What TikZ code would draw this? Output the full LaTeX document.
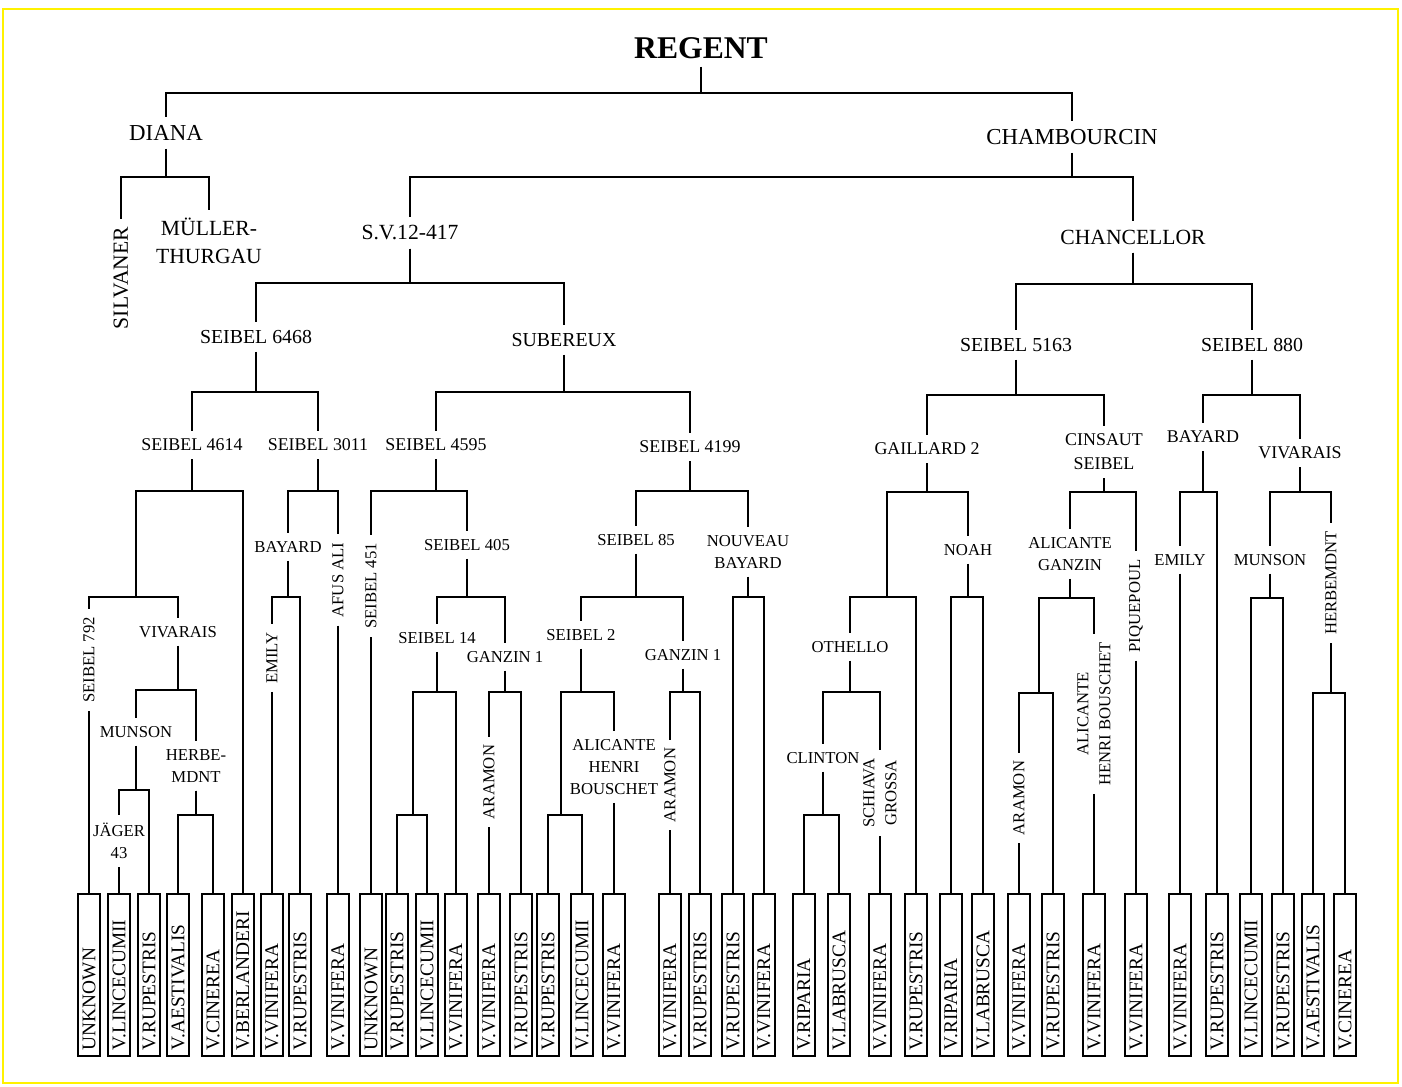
\documentclass[tikz,border=0pt]{standalone}
\usepackage{fontspec}
\setmainfont{Liberation Serif}
\tikzset{
  cv/.style={inner sep=4.5pt, align=center},
  lvA/.style={cv, font=\fontsize{13}{16}\selectfont},
  lvB/.style={cv, font=\fontsize{12.3}{16}\selectfont},
  lvC/.style={cv, font=\fontsize{11.3}{14}\selectfont},
  lvD/.style={cv, font=\fontsize{10.2}{13.6}\selectfont},
  lvE/.style={cv, font=\fontsize{9.5}{12.5}\selectfont},
  up/.style={rotate=90},
  species/.style={draw, line width=1.1pt, rotate=90, inner xsep=0.12cm, inner ysep=0pt,
    minimum height=0.44cm, text width=3cm, align=left, font=\fontsize{11}{13}\selectfont},
  kin/.style={line width=0.9pt}
}
% padre -> barra a la altura #2 -> hijos
\newcommand{\fork}[3]{\foreach \c in {#3} \draw[kin] (#1) -- (#1 |- 0,#2) -| (\c);}
\begin{document}
\begin{tikzpicture}[x=0.02cm, y=-0.02cm]
  \useasboundingbox (0,0) rectangle (1402,1086);
  \fill[white] (0,0) rectangle (1402,1086);
  \draw[yellow, line width=0.05cm] (3,9) rectangle (1398,1083);

  \node[cv, font=\fontsize{18}{20}\selectfont\bfseries] (regent) at (701,48) {REGENT};
  \node[lvA] (diana) at (166,133) {DIANA};
  \node[lvA] (chamb) at (1072,137) {CHAMBOURCIN};
  \node[lvB, up] (silvaner) at (121,278) {SILVANER};
  \node[lvB] (muller) at (209,241) {MÜLLER-\\THURGAU};
  \node[lvB] (sv) at (410,233) {S.V.12-417};
  \node[lvB] (chanc) at (1133,237) {CHANCELLOR};
  \node[lvC] (s6468) at (256,337) {SEIBEL 6468};
  \node[lvC] (suber) at (564,340) {SUBEREUX};
  \node[lvC] (s5163) at (1016,345) {SEIBEL 5163};
  \node[lvC] (s880) at (1252,345) {SEIBEL 880};
  \node[lvD] (s4614) at (192,445) {SEIBEL 4614};
  \node[lvD] (s3011) at (318,445) {SEIBEL 3011};
  \node[lvD] (s4595) at (436,445) {SEIBEL 4595};
  \node[lvD] (s4199) at (690,447) {SEIBEL 4199};
  \node[lvD] (gaill) at (927,449) {GAILLARD 2};
  \node[lvD] (cinsaut) at (1104,452) {CINSAUT\\SEIBEL};
  \node[lvD] (bayR) at (1203,437) {BAYARD};
  \node[lvD] (vivR) at (1300,453) {VIVARAIS};

  \coordinate (jA) at (136,597);
  \node[lvE, up] (s792) at (89,660) {SEIBEL 792};
  \node[lvE] (vivL) at (178,632) {VIVARAIS};
  \node[lvE] (munL) at (136,732) {MUNSON};
  \node[lvE] (herbL) at (196,766) {HERBE-\\MDNT};
  \node[lvE] (jager) at (119,841) {JÄGER\\43};
  \node[lvE] (bayL) at (288,547) {BAYARD};
  \node[lvE, up] (emilyL) at (272,658) {EMILY};
  \node[lvE, up] (afus) at (338,580) {AFUS ALI};
  \node[lvE, up] (s451) at (371,586) {SEIBEL 451};
  \node[lvE] (s405) at (467,545) {SEIBEL 405};
  \node[lvE] (s14) at (437,638) {SEIBEL 14};
  \node[lvE] (ganA) at (505,657) {GANZIN 1};
  \coordinate (jB) at (413,815);
  \node[lvE, up] (aramA) at (489,782) {ARAMON};
  \node[lvE] (s85) at (636,540) {SEIBEL 85};
  \node[lvE] (nouveau) at (748,552) {NOUVEAU\\BAYARD};
  \node[lvE] (s2) at (581,635) {SEIBEL 2};
  \node[lvE] (ganB) at (683,655) {GANZIN 1};
  \coordinate (jC) at (561,815);
  \node[lvE] (aliA) at (614,767) {ALICANTE\\HENRI\\BOUSCHET};
  \node[lvE, up] (aramB) at (670,785) {ARAMON};
  \coordinate (jD) at (887,597);
  \node[lvE] (othello) at (850,647) {OTHELLO};
  \node[lvE] (noah) at (968,550) {NOAH};
  \node[lvE] (clinton) at (823,758) {CLINTON};
  \node[lvE, up] (schiava) at (880,793) {SCHIAVA\\GROSSA};
  \node[lvE] (aliG) at (1070,554) {ALICANTE\\GANZIN};
  \node[lvE, up] (piq) at (1136,606) {PIQUEPOUL};
  \coordinate (jE) at (1039,693);
  \node[lvE, up] (aramC) at (1019,798) {ARAMON};
  \node[lvE, up] (aliB) at (1094,714) {ALICANTE\\HENRI BOUSCHET};
  \node[lvE] (emilyR) at (1180,560) {EMILY};
  \node[lvE] (munR) at (1270,560) {MUNSON};
  \node[lvE, up] (herbR) at (1331,583) {HERBEMDNT};

  % especies
  \foreach \i/\x/\t in {1/89/UNKNOWN, 2/119/V.LINCECUMII, 3/149/V.RUPESTRIS,
      4/178/V.AESTIVALIS, 5/213/V.CINEREA, 6/243/V.BERLANDERI, 7/272/V.VINIFERA,
      8/300/V.RUPESTRIS, 9/338/V.VINIFERA, 10/371/UNKNOWN, 11/397/V.RUPESTRIS,
      12/427/V.LINCECUMII, 13/456/V.VINIFERA, 14/489/V.VINIFERA, 15/521/V.RUPESTRIS,
      16/548/V.RUPESTRIS, 17/582/V.LINCECUMII, 18/614/V.VINIFERA, 19/670/V.VINIFERA,
      20/700/V.RUPESTRIS, 21/733/V.RUPESTRIS, 22/764/V.VINIFERA, 23/804/V.RIPARIA,
      24/839/V.LABRUSCA, 25/880/V.VINIFERA, 26/916/V.RUPESTRIS, 27/951/V.RIPARIA,
      28/983/V.LABRUSCA, 29/1019/V.VINIFERA, 30/1053/V.RUPESTRIS, 31/1094/V.VINIFERA,
      32/1136/V.VINIFERA, 33/1180/V.VINIFERA, 34/1217/V.RUPESTRIS, 35/1251/V.LINCECUMII,
      36/1283/V.RUPESTRIS, 37/1313/V.AESTIVALIS, 38/1345/V.CINEREA}
    \node[species] (l\i) at (\x,975) {\t};

  \fork{regent}{93}{diana,chamb}
  \fork{diana}{177}{silvaner,muller}
  \fork{chamb}{177}{sv,chanc}
  \fork{sv}{283}{s6468,suber}
  \fork{chanc}{284}{s5163,s880}
  \fork{s6468}{392}{s4614,s3011}
  \fork{suber}{392}{s4595,s4199}
  \fork{s5163}{395}{gaill,cinsaut}
  \fork{s880}{395}{bayR,vivR}
  \fork{s4614}{491}{jA,l6}
  \fork{jA}{597}{s792,vivL}
  \fork{vivL}{690}{munL,herbL}
  \fork{munL}{790}{jager,l3}
  \fork{herbL}{815}{l4,l5}
  \fork{s3011}{491}{bayL,afus}
  \fork{bayL}{597}{emilyL,l8}
  \fork{s4595}{491}{s451,s405}
  \fork{s405}{597}{s14,ganA}
  \fork{s14}{692}{jB,l13}
  \fork{jB}{815}{l11,l12}
  \fork{ganA}{692}{aramA,l15}
  \fork{s4199}{491}{s85,nouveau}
  \fork{s85}{597}{s2,ganB}
  \fork{s2}{692}{jC,aliA}
  \fork{jC}{815}{l16,l17}
  \fork{ganB}{692}{aramB,l20}
  \fork{nouveau}{597}{l21,l22}
  \fork{gaill}{492}{jD,noah}
  \fork{jD}{597}{othello,l26}
  \fork{othello}{692}{clinton,schiava}
  \fork{clinton}{815}{l23,l24}
  \fork{noah}{597}{l27,l28}
  \fork{cinsaut}{492}{aliG,piq}
  \fork{aliG}{598}{jE,aliB}
  \fork{jE}{693}{aramC,l30}
  \fork{bayR}{492}{emilyR,l34}
  \fork{vivR}{492}{munR,herbR}
  \fork{munR}{598}{l35,l36}
  \fork{herbR}{693}{l37,l38}
  \foreach \a/\b in {s792/l1, jager/l2, emilyL/l7, afus/l9, s451/l10, aramA/l14,
      aliA/l18, aramB/l19, schiava/l25, aramC/l29, aliB/l31, piq/l32, emilyR/l33}
    \draw[kin] (\a) -- (\b);
\end{tikzpicture}
\end{document}
